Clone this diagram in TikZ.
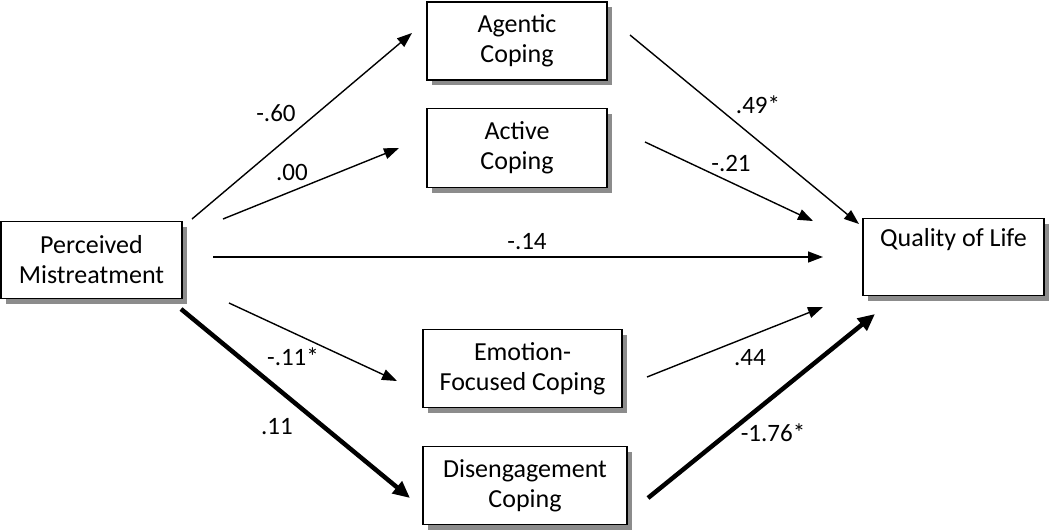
\documentclass[tikz,border=0pt]{standalone}
\usepackage{fontspec}
\setmainfont{Carlito}
\usetikzlibrary{shadows,arrows.meta}
\begin{document}
\begin{tikzpicture}[x=1pt,y=-1pt,
  box/.style={draw=black,line width=1.8pt,fill=white,rectangle,align=center,
    inner sep=0pt,text=black,font=\fontsize{26}{30}\selectfont,
    drop shadow={shadow xshift=5pt,shadow yshift=-5pt,fill=black!45,opacity=1}},
  thin/.style={line width=1.4pt,-{Triangle[length=15pt,width=11pt]}},
  thick/.style={line width=4.5pt,-{Triangle[length=17pt,width=15pt]}},
  lab/.style={font=\fontsize{25}{28}\selectfont,text=black,inner sep=0pt}]
\useasboundingbox (0,0) rectangle (1050,531);
\node[box,minimum width=181pt,minimum height=77pt] (pm) at (91.5,260) {Perceived\\Mistreatment};
\node[box,minimum width=180pt,minimum height=78pt] (ag) at (517,41) {Agentic\\Coping};
\node[box,minimum width=180pt,minimum height=79pt] (ac) at (517,148) {Active\\Coping};
\node[box,minimum width=199pt,minimum height=78pt] (em) at (522.5,368.5) {Emotion-\\Focused Coping};
\node[box,minimum width=204pt,minimum height=78pt] (di) at (525,485.5) {Disengagement\\Coping};
\node[box,minimum width=181pt,minimum height=77pt] (ql) at (953.5,257) {Quality of Life\\\strut};
% connector end points
\coordinate (s1) at (192,219); \coordinate (e1) at (412,33);
\coordinate (s2) at (223,219); \coordinate (e2) at (399,148);
\coordinate (s3) at (213,257); \coordinate (e3) at (823,257);
\coordinate (s4) at (229,303); \coordinate (e4) at (397,381);
\coordinate (s5) at (181,309); \coordinate (e5) at (410,498);
\coordinate (s6) at (630,35);  \coordinate (e6) at (859,224);
\coordinate (s7) at (645,142); \coordinate (e7) at (813,221);
\coordinate (s8) at (647,377); \coordinate (e8) at (823,307);
\coordinate (s9) at (648,498); \coordinate (e9) at (875,314);
\draw[thin] (s1) -- (e1);
\draw[thin] (s2) -- (e2);
\draw[thin] (s3) -- (e3);
\draw[thin] (s4) -- (e4);
\draw[thick] (s5) -- (e5);
\draw[thin] (s6) -- (e6);
\draw[thin] (s7) -- (e7);
\draw[thin] (s8) -- (e8);
\draw[thick] (s9) -- (e9);
\node[lab] (l1) at (276,113) {-.60};
\node[lab] (l2) at (292,172) {.00};
\node[lab] (l3) at (527,242) {-.14};
\node[lab] (l4) at (293,357) {-.11*};
\node[lab] (l5) at (277,427) {.11};
\node[lab] (l6) at (758,105) {.49*};
\node[lab] (l7) at (731,163) {-.21};
\node[lab] (l8) at (750,358) {.44};
\node[lab] (l9) at (773,433) {-1.76*};
\end{tikzpicture}
\end{document}
